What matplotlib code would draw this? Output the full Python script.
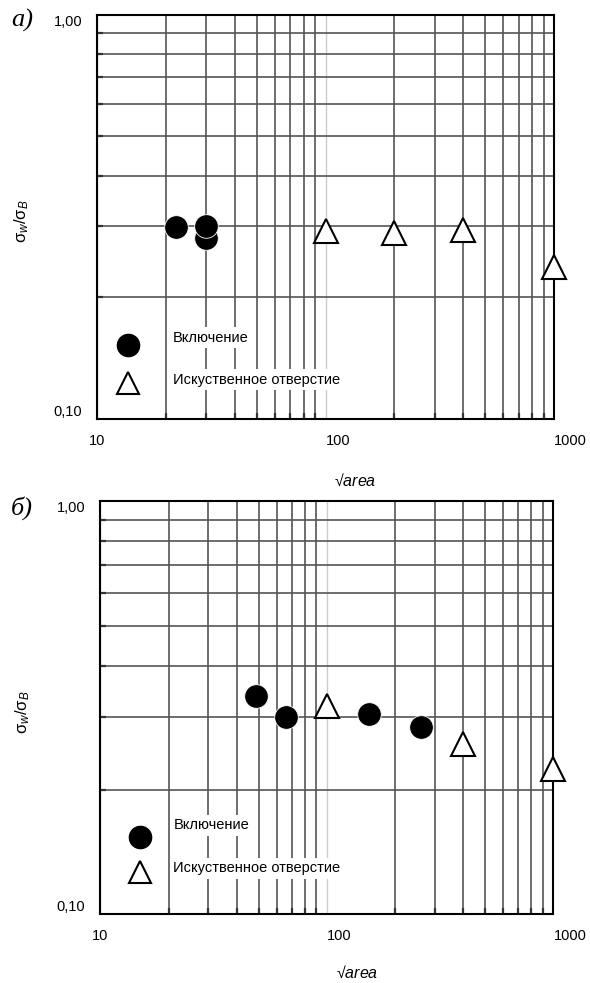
import numpy as np
import matplotlib.pyplot as plt
from matplotlib.ticker import FixedLocator, NullFormatter

plt.rcParams['font.family'] = ['Liberation Sans', 'DejaVu Sans']
plt.rcParams['mathtext.fontset'] = 'custom'
plt.rcParams['mathtext.rm'] = 'Liberation Sans'
plt.rcParams['mathtext.it'] = 'Liberation Sans:italic'

# panel a)
inc_a_x = [29.8, 22.0, 29.8]
inc_a_y = [0.280, 0.299, 0.300]
hole_a_x = [100, 200, 400, 1000]
hole_a_y = [0.292, 0.289, 0.293, 0.237]

# panel б)
inc_b_x = [48.5, 66, 153, 261]
inc_b_y = [0.337, 0.300, 0.305, 0.284]
hole_b_x = [100, 400, 1000]
hole_b_y = [0.319, 0.258, 0.225]

x_ticks = [10, 100, 1000]
x_labels = ['10', '100', '1000']
y_ticks = [0.1, 1.0]
y_labels = ['0,10', '1,00']
leg_labels = ['Включение', 'Искуственное отверстие']

fig = plt.figure(figsize=(5.9, 9.83), dpi=100)
ax_a = fig.add_axes([0.165, 0.574, 0.774, 0.411])
ax_b = fig.add_axes([0.170, 0.070, 0.768, 0.420])


def setup(ax, inc_x, inc_y, hole_x, hole_y, leg):
    ax.set_xscale('log')
    ax.set_yscale('log')
    ax.set_xlim(10, 1000)
    ax.set_ylim(0.1, 1.0)
    ax.set_axisbelow(True)

    ax.xaxis.set_major_locator(FixedLocator(x_ticks))
    ax.set_xticklabels(x_labels)
    ax.yaxis.set_major_locator(FixedLocator(y_ticks))
    ax.set_yticklabels(y_labels)
    ax.xaxis.set_minor_locator(FixedLocator([k * d for d in (10, 100) for k in range(2, 10)]))
    ax.yaxis.set_minor_locator(FixedLocator([k * 0.1 for k in range(2, 10)]))
    ax.xaxis.set_minor_formatter(NullFormatter())
    ax.yaxis.set_minor_formatter(NullFormatter())

    ax.grid(True, which='minor', color='#555555', linewidth=1.2)
    ax.grid(True, which='major', axis='x', color='#cccccc', linewidth=1.0)
    ax.tick_params(which='major', length=0, labelsize=10.5)
    ax.tick_params(axis='x', which='major', pad=11)
    ax.tick_params(axis='y', which='major', pad=11)
    ax.tick_params(which='minor', direction='in', length=4, width=1.6, color='#333333')
    for lab in ax.get_xticklabels()[1:]:
        lab.set_horizontalalignment('left')
    ylabs = ax.get_yticklabels()
    ylabs[0].set_verticalalignment('bottom')
    ylabs[1].set_verticalalignment('top')
    for s in ax.spines.values():
        s.set_linewidth(1.5)

    ax.plot(inc_x, inc_y, 'o', color='black', markersize=17,
            markeredgecolor='white', markeredgewidth=0.6, zorder=3)
    ax.plot(hole_x, hole_y, '^', markerfacecolor='white', markeredgecolor='black',
            markersize=17, markeredgewidth=1.5, zorder=3, clip_on=False)

    # legend drawn by hand, as in the original
    mx, cy, ty, tx, t1y, t2y = leg
    ax.plot([mx], [cy], 'o', color='black', markersize=16, transform=ax.transAxes, zorder=4)
    ax.plot([mx], [ty], '^', markerfacecolor='white', markeredgecolor='black',
            markersize=16, markeredgewidth=1.5, transform=ax.transAxes, zorder=4)
    box = dict(facecolor='white', edgecolor='none', pad=2.5)
    ax.text(tx, t1y, leg_labels[0], transform=ax.transAxes, fontsize=10.5,
            va='center', bbox=box, zorder=4)
    ax.text(tx, t2y, leg_labels[1], transform=ax.transAxes, fontsize=10.5,
            va='center', bbox=box, zorder=4)

    ax.set_ylabel(r'σ$_w$/σ$_B$', fontsize=12)
    ax.set_xlabel(r'√$\mathit{area}$', fontsize=11.5)


setup(ax_a, inc_a_x, inc_a_y, hole_a_x, hole_a_y, (0.068, 0.183, 0.089, 0.166, 0.200, 0.0965))
setup(ax_b, inc_b_x, inc_b_y, hole_b_x, hole_b_y, (0.088, 0.186, 0.102, 0.161, 0.215, 0.111))

ax_a.yaxis.set_label_coords(-0.145, 0.49)
ax_b.yaxis.set_label_coords(-0.150, 0.49)
ax_a.xaxis.set_label_coords(0.565, -0.134)
ax_b.xaxis.set_label_coords(0.567, -0.122)

fig.text(0.037, 0.979, 'а)', family='Liberation Serif', style='italic', fontsize=19,
         ha='center', va='center')
fig.text(0.037, 0.483, 'б)', family='Liberation Serif', style='italic', fontsize=19,
         ha='center', va='center')

plt.savefig('out.png', dpi=100)
